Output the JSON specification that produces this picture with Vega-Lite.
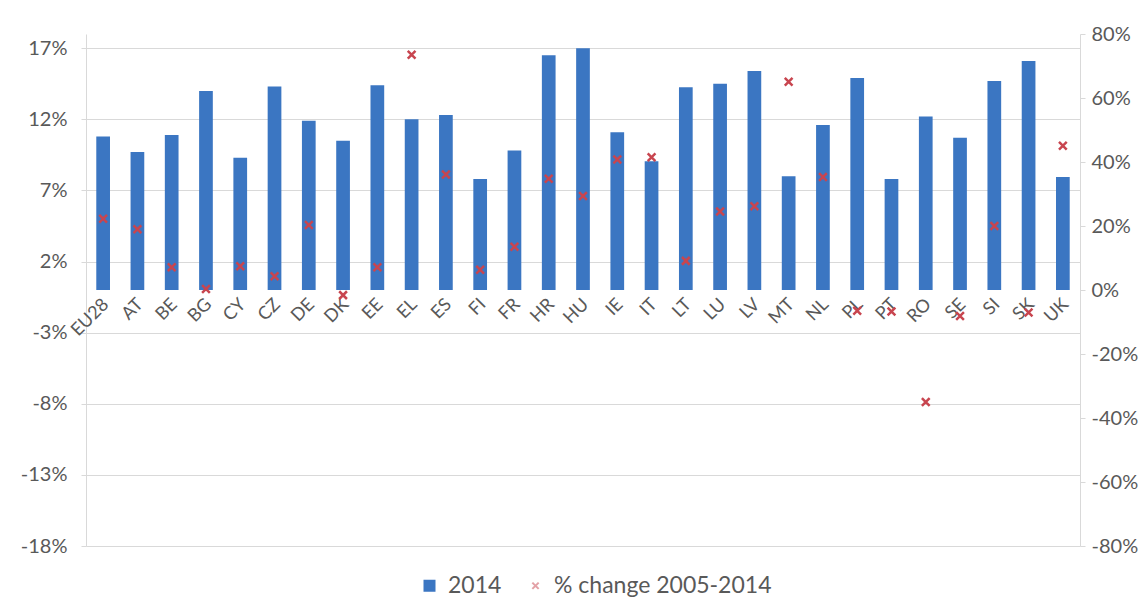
{
  "$schema": "https://vega.github.io/schema/vega-lite/v6.json",
  "autosize": {"type": "none"},
  "width": 994,
  "height": 512,
  "padding": {"left": 86, "top": 34, "right": 67, "bottom": 62},
  "background": "white",
  "config": {
    "view": {"stroke": null},
    "font": "Lato",
    "axis": {"labelFont": "Lato", "labelColor": "#595959", "labelFontSize": 20, "titleFont": "Lato"},
    "legend": {"labelFont": "Lato", "labelColor": "#595959", "labelFontSize": 23, "labelLimit": 400}
  },
  "data": {
    "values": [
      {"country": "EU28", "v2014": 10.8, "change": 22.3},
      {"country": "AT", "v2014": 9.7, "change": 19.0},
      {"country": "BE", "v2014": 10.9, "change": 7.1},
      {"country": "BG", "v2014": 14.0, "change": 0.3},
      {"country": "CY", "v2014": 9.3, "change": 7.4},
      {"country": "CZ", "v2014": 14.3, "change": 4.3},
      {"country": "DE", "v2014": 11.9, "change": 20.3},
      {"country": "DK", "v2014": 10.5, "change": -1.6},
      {"country": "EE", "v2014": 14.4, "change": 7.1},
      {"country": "EL", "v2014": 12.0, "change": 73.5},
      {"country": "ES", "v2014": 12.3, "change": 36.1},
      {"country": "FI", "v2014": 7.8, "change": 6.3},
      {"country": "FR", "v2014": 9.8, "change": 13.5},
      {"country": "HR", "v2014": 16.5, "change": 34.8},
      {"country": "HU", "v2014": 17.0, "change": 29.4},
      {"country": "IE", "v2014": 11.1, "change": 40.8},
      {"country": "IT", "v2014": 9.05, "change": 41.5},
      {"country": "LT", "v2014": 14.25, "change": 9.1},
      {"country": "LU", "v2014": 14.5, "change": 24.5},
      {"country": "LV", "v2014": 15.4, "change": 26.2},
      {"country": "MT", "v2014": 8.0, "change": 65.1},
      {"country": "NL", "v2014": 11.6, "change": 35.3},
      {"country": "PL", "v2014": 14.9, "change": -6.5},
      {"country": "PT", "v2014": 7.8, "change": -6.7},
      {"country": "RO", "v2014": 12.2, "change": -35.0},
      {"country": "SE", "v2014": 10.7, "change": -8.1},
      {"country": "SI", "v2014": 14.7, "change": 20.0},
      {"country": "SK", "v2014": 16.1, "change": -7.0},
      {"country": "UK", "v2014": 7.95, "change": 45.1}
    ]
  },
  "encoding": {
    "x": {
      "field": "country",
      "type": "nominal",
      "sort": null,
      "scale": {"paddingInner": 0.6, "paddingOuter": 0.3},
      "axis": null
    }
  },
  "layer": [
    {
      "mark": {"type": "bar", "color": "#3b76c2"},
      "encoding": {
        "y": {
          "field": "v2014",
          "type": "quantitative",
          "scale": {"domain": [-18, 18], "nice": false, "zero": false},
          "axis": {
            "title": null,
            "values": [-18, -13, -8, -3, 2, 7, 12, 17],
            "labelExpr": "datum.value + '%'",
            "grid": true,
            "gridColor": "#d9d9d9",
            "domainColor": "#d9d9d9",
            "tickColor": "#d9d9d9",
            "tickSize": 5,
            "labelPadding": 14
          }
        },
        "color": {
          "datum": "2014",
          "type": "nominal",
          "scale": {"domain": ["2014", "% change 2005-2014"], "range": ["#3b76c2", "#c8454f"]},
          "legend": {
            "title": null,
            "orient": "none",
            "legendX": 332,
            "legendY": 540,
            "direction": "horizontal",
            "columnPadding": 22,
            "symbolSize": 100,
            "labelOffset": 7,
            "encode": {
              "symbols": {
                "update": {
                  "shape": {"signal": "datum.value === '2014' ? 'square' : 'M-1,-1L1,1M1,-1L-1,1'"},
                  "fill": {"signal": "datum.value === '2014' ? '#3b76c2' : 'transparent'"},
                  "stroke": {"signal": "datum.value === '2014' ? 'transparent' : '#e8a6b4'"},
                  "opacity": {"signal": "datum.value === '2014' ? 1 : 0.5"},
                  "strokeWidth": {"value": 2},
                  "size": {"signal": "datum.value === '2014' ? 100 : 40"}
                }
              }
            }
          }
        }
      }
    },
    {
      "mark": {"type": "rule", "color": "#bfbfbf", "strokeWidth": 1},
      "encoding": {
        "y": {"datum": 0, "type": "quantitative", "scale": {"domain": [-18, 18], "nice": false, "zero": false}, "axis": null}
      }
    },
    {
      "mark": {"type": "text", "angle": -45, "align": "right", "baseline": "middle", "yOffset": 12, "xOffset": 3, "font": "Lato", "fontSize": 18, "color": "#595959"},
      "encoding": {
        "y": {"datum": 0, "type": "quantitative", "scale": {"domain": [-18, 18], "nice": false, "zero": false}, "axis": null},
        "text": {"field": "country"}
      }
    },
    {
      "mark": {"type": "point", "shape": "M-1,-1L1,1M1,-1L-1,1", "filled": false, "strokeWidth": 2.5, "size": 60, "opacity": 1},
      "encoding": {
        "y": {
          "field": "change",
          "type": "quantitative",
          "scale": {"domain": [-80, 80], "nice": false, "zero": false},
          "axis": {
            "orient": "right",
            "title": null,
            "values": [-80, -60, -40, -20, 0, 20, 40, 60, 80],
            "labelExpr": "datum.value + '%'",
            "grid": false,
            "domainColor": "#d9d9d9",
            "tickColor": "#d9d9d9",
            "tickSize": 5,
            "labelPadding": 6
          }
        },
        "color": {"datum": "% change 2005-2014", "type": "nominal"}
      }
    }
  ],
  "resolve": {"scale": {"y": "independent"}}
}
